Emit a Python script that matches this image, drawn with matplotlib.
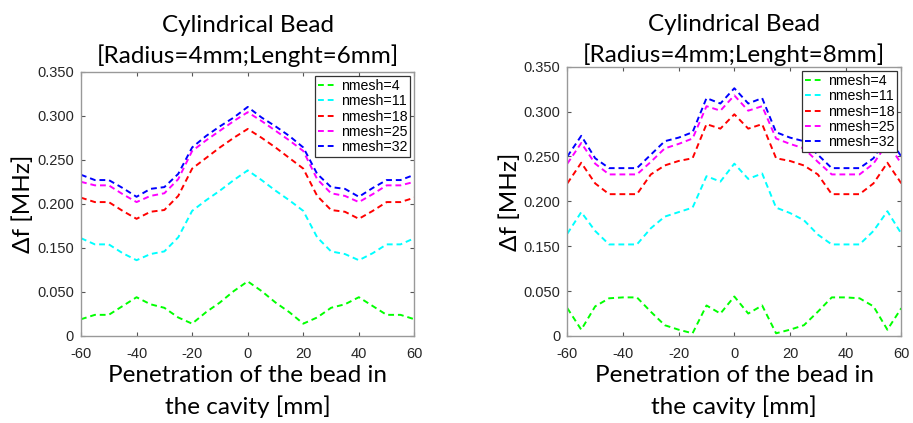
import matplotlib
matplotlib.use("Agg")
import matplotlib.pyplot as plt
import numpy as np

plt.rcParams["axes.unicode_minus"] = False

# bead position along the cavity [mm]
x_mm = np.arange(-60, 61, 5)

# Lenght = 6 mm  (values in axis units)
g6 = [0.019, 0.024, 0.024, 0.034, 0.044, 0.036, 0.032, 0.021, 0.014, 0.027, 0.038, 0.051, 0.062,
      0.051, 0.038, 0.027, 0.014, 0.021, 0.032, 0.036, 0.044, 0.034, 0.024, 0.024, 0.019]
c6 = [0.111, 0.104, 0.104, 0.094, 0.086, 0.093, 0.096, 0.112, 0.142, 0.154, 0.165, 0.177, 0.188,
      0.177, 0.165, 0.154, 0.142, 0.112, 0.096, 0.093, 0.086, 0.094, 0.104, 0.104, 0.111]
r6 = [0.157, 0.152, 0.152, 0.142, 0.133, 0.141, 0.143, 0.159, 0.190, 0.202, 0.214, 0.225, 0.235,
      0.225, 0.214, 0.202, 0.190, 0.159, 0.143, 0.141, 0.133, 0.142, 0.152, 0.152, 0.157]
m6 = [0.175, 0.171, 0.171, 0.161, 0.152, 0.159, 0.162, 0.178, 0.210, 0.222, 0.233, 0.244, 0.254,
      0.244, 0.233, 0.222, 0.210, 0.178, 0.162, 0.159, 0.152, 0.161, 0.171, 0.171, 0.175]
b6 = [0.183, 0.177, 0.177, 0.168, 0.158, 0.167, 0.169, 0.184, 0.214, 0.227, 0.238, 0.248, 0.260,
      0.248, 0.238, 0.227, 0.214, 0.184, 0.169, 0.167, 0.158, 0.168, 0.177, 0.177, 0.183]

# Lenght = 8 mm
g8 = [0.031, 0.007, 0.033, 0.042, 0.043, 0.043, 0.027, 0.012, 0.007, 0.003, 0.034, 0.025, 0.044,
      0.025, 0.034, 0.003, 0.007, 0.012, 0.027, 0.043, 0.043, 0.042, 0.033, 0.007, 0.031]
c8 = [0.114, 0.138, 0.117, 0.102, 0.102, 0.102, 0.120, 0.133, 0.138, 0.143, 0.178, 0.172, 0.192,
      0.175, 0.181, 0.143, 0.137, 0.129, 0.113, 0.102, 0.102, 0.102, 0.117, 0.139, 0.114]
r8 = [0.170, 0.193, 0.170, 0.158, 0.158, 0.158, 0.180, 0.190, 0.195, 0.198, 0.236, 0.231, 0.247,
      0.231, 0.236, 0.198, 0.195, 0.190, 0.180, 0.158, 0.158, 0.158, 0.170, 0.193, 0.170]
m8 = [0.192, 0.215, 0.192, 0.180, 0.180, 0.180, 0.194, 0.209, 0.214, 0.220, 0.256, 0.251, 0.268,
      0.251, 0.256, 0.220, 0.214, 0.209, 0.194, 0.180, 0.180, 0.180, 0.192, 0.215, 0.192]
b8 = [0.200, 0.223, 0.198, 0.187, 0.187, 0.187, 0.202, 0.217, 0.221, 0.227, 0.265, 0.259, 0.276,
      0.259, 0.265, 0.227, 0.221, 0.217, 0.202, 0.187, 0.187, 0.187, 0.198, 0.223, 0.200]

labels = ["nmesh=4", "nmesh=11", "nmesh=18", "nmesh=25", "nmesh=32"]
colors = ["#00ff00", "#00ffff", "#ff0000", "#ff00ff", "#0000ff"]

# tick labels as printed on the original (0.100 is missing there)
ytick_pos = [0, 0.05, 0.10, 0.15, 0.20, 0.25, 0.30]
ytick_lab = ["0", "0.050", "0.150", "0.200", "0.250", "0.300", "0.350"]
xticks = [-60, -40, -20, 0, 20, 40, 60]

big_font = "Lato"
tick_font = "Liberation Sans"


def draw_panel(ax, series, title, title_pad):
    for y, c, lab in zip(series, colors, labels):
        ax.plot(x_mm, y, color=c, linestyle=(0, (3, 2)), linewidth=1.4, label=lab)
    ax.set_xlim(-60, 60)
    ax.set_ylim(0, 0.30)
    ax.set_xticks(xticks)
    ax.set_yticks(ytick_pos)
    ax.set_yticklabels(ytick_lab)
    for lbl in ax.get_xticklabels() + ax.get_yticklabels():
        lbl.set_fontfamily(tick_font)
        lbl.set_fontsize(10.5)
        lbl.set_color("#262626")
    ax.tick_params(direction="in", top=True, right=True, length=3, width=0.8,
                   color="#555555")
    ax.tick_params(axis="y", pad=5)
    ax.tick_params(axis="x", pad=8)
    for sp in ax.spines.values():
        sp.set_color("#999999")
        sp.set_linewidth(1.0)
    ax.set_title(title, fontfamily=big_font, fontsize=17.5, linespacing=1.45, pad=title_pad)
    ax.set_xlabel("Penetration of the bead in\nthe cavity [mm]", fontfamily=big_font,
                  fontsize=17.5, linespacing=1.5, labelpad=3)
    ax.set_ylabel("Δf [MHz]", fontfamily=big_font, fontsize=17.5)
    ax.yaxis.set_label_coords(-0.14, 0.5)
    leg = ax.legend(loc="upper right", prop={"family": tick_font, "size": 10.2},
                    fancybox=False, framealpha=1, edgecolor="#333333",
                    handlelength=1.3, handletextpad=0.3, labelspacing=0.1,
                    borderpad=0.2, borderaxespad=0.3)
    leg.get_frame().set_linewidth(0.9)


fig = plt.figure(figsize=(9.13, 4.23), dpi=100)
ax1 = fig.add_axes([0.0887, 0.2057, 0.3652, 0.6248])
ax2 = fig.add_axes([0.6214, 0.2057, 0.3658, 0.6366])

draw_panel(ax1, [g6, c6, r6, m6, b6], "Cylindrical Bead\n[Radius=4mm;Lenght=6mm]", 6.0)
draw_panel(ax2, [g8, c8, r8, m8, b8], "Cylindrical Bead\n[Radius=4mm;Lenght=8mm]", 3.5)

fig.savefig("out.png", dpi=100)
